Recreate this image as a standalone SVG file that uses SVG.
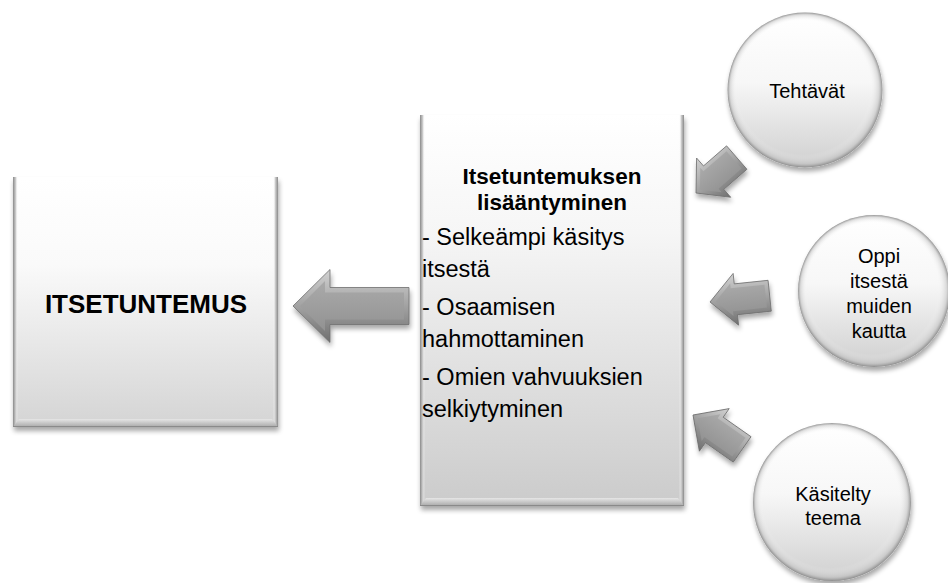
<svg xmlns="http://www.w3.org/2000/svg" width="948" height="583" viewBox="0 0 948 583">
<defs>
  <style>
    text { font-family: "Liberation Sans", Arial, sans-serif; fill: #000; }
    .title { font-size: 26px; font-weight: bold; text-anchor: middle; }
    .head { font-size: 22.5px; font-weight: bold; text-anchor: middle; }
    .body { font-size: 23.5px; }
    .ctext { font-size: 20px; text-anchor: middle; }
    .arrowOuter { fill: url(#arrowBevel); stroke: #6e6e6e; stroke-width: 0.8; }
    .arrowInner { fill: url(#arrowFace); }
  </style>
  <filter id="shadow" x="-20%" y="-20%" width="140%" height="140%">
    <feGaussianBlur in="SourceAlpha" stdDeviation="2.5"/>
    <feOffset dx="1" dy="4" result="b"/>
    <feComponentTransfer><feFuncA type="linear" slope="0.35"/></feComponentTransfer>
    <feMerge><feMergeNode/><feMergeNode in="SourceGraphic"/></feMerge>
  </filter>
  <linearGradient id="boxFillL" x1="0" y1="0" x2="0" y2="1">
    <stop offset="0" stop-color="#ffffff"/>
    <stop offset="0.35" stop-color="#fafafa"/>
    <stop offset="1" stop-color="#d4d4d4"/>
  </linearGradient>
  <linearGradient id="boxFillM" x1="0" y1="0" x2="0" y2="1">
    <stop offset="0" stop-color="#ffffff"/>
    <stop offset="0.3" stop-color="#f6f6f6"/>
    <stop offset="1" stop-color="#cbcbcb"/>
  </linearGradient>
  <linearGradient id="edgeL" x1="0" y1="0" x2="1" y2="0">
    <stop offset="0" stop-color="#8a8a8a"/>
    <stop offset="0.5" stop-color="#c8c8c8"/>
    <stop offset="1" stop-color="#ffffff" stop-opacity="0"/>
  </linearGradient>
  <linearGradient id="edgeR" x1="1" y1="0" x2="0" y2="0">
    <stop offset="0" stop-color="#8a8a8a"/>
    <stop offset="0.5" stop-color="#c8c8c8"/>
    <stop offset="1" stop-color="#ffffff" stop-opacity="0"/>
  </linearGradient>
  <linearGradient id="edgeB" x1="0" y1="0" x2="0" y2="1">
    <stop offset="0" stop-color="#e6e6e6"/>
    <stop offset="1" stop-color="#a8a8a8"/>
  </linearGradient>
  <linearGradient id="circFill" x1="0" y1="0" x2="0" y2="1">
    <stop offset="0" stop-color="#ffffff"/>
    <stop offset="0.45" stop-color="#f7f7f7"/>
    <stop offset="1" stop-color="#cfcfcf"/>
  </linearGradient>
  <radialGradient id="circRim" cx="0.5" cy="0.5" r="0.5" fx="0.42" fy="0.38">
    <stop offset="0.86" stop-color="#ffffff" stop-opacity="0"/>
    <stop offset="0.96" stop-color="#b8b8b8" stop-opacity="0.45"/>
    <stop offset="1" stop-color="#7a7a7a" stop-opacity="0.8"/>
  </radialGradient>
  <linearGradient id="arrowBevel" x1="0" y1="0" x2="0" y2="1">
    <stop offset="0" stop-color="#d2d2d2"/>
    <stop offset="0.5" stop-color="#a2a2a2"/>
    <stop offset="1" stop-color="#6f6f6f"/>
  </linearGradient>
  <linearGradient id="arrowFace" x1="0" y1="0" x2="0" y2="1">
    <stop offset="0" stop-color="#aaaaaa"/>
    <stop offset="1" stop-color="#929292"/>
  </linearGradient>
  <g id="bigArrow">
    <polygon class="arrowOuter" points="0,0 37,-36.5 37,-18.5 116,-18.5 116,18.5 37,18.5 37,36.5"/>
    <polygon class="arrowInner" points="7,0 32,-25 32,-13.5 111,-13.5 111,13.5 32,13.5 32,25"/>
  </g>
  <g id="smallArrow">
    <polygon class="arrowOuter" points="0,0 26,-26 26,-15.5 60,-15.5 60,15.5 26,15.5 26,26"/>
    <polygon class="arrowInner" points="5.7,0 22,-16.3 22,-11.5 56,-11.5 56,11.5 22,11.5 22,16.3"/>
  </g>
</defs>

<rect width="948" height="583" fill="#ffffff"/>

<g id="node-itsetuntemus">
  <rect x="13" y="177" width="265" height="250" fill="url(#boxFillL)" filter="url(#shadow)"/>
  <rect x="13" y="177" width="5" height="250" fill="url(#edgeL)"/>
  <rect x="273" y="177" width="5" height="250" fill="url(#edgeR)"/>
  <polygon points="13,427 278,427 272,419 19,419" fill="url(#edgeB)"/>
  <line x1="13" y1="426.5" x2="278" y2="426.5" stroke="#8a8a8a" stroke-width="1"/>
  <text class="title" x="146" y="313">ITSETUNTEMUS</text>
</g>

<g id="node-lisaantyminen">
  <rect x="420" y="115" width="264" height="391" fill="url(#boxFillM)" filter="url(#shadow)"/>
  <rect x="420" y="115" width="5" height="391" fill="url(#edgeL)"/>
  <rect x="679" y="115" width="5" height="391" fill="url(#edgeR)"/>
  <polygon points="420,506 684,506 678,498 426,498" fill="url(#edgeB)"/>
  <line x1="420" y1="505.5" x2="684" y2="505.5" stroke="#8a8a8a" stroke-width="1"/>
  <text class="head" x="552" y="184">Itsetuntemuksen</text>
  <text class="head" x="552" y="210">lisääntyminen</text>
  <text class="body" x="422" y="245">- Selkeämpi käsitys</text>
  <text class="body" x="422" y="277">itsestä</text>
  <text class="body" x="422" y="315">- Osaamisen</text>
  <text class="body" x="422" y="347">hahmottaminen</text>
  <text class="body" x="422" y="385">- Omien vahvuuksien</text>
  <text class="body" x="422" y="417">selkiytyminen</text>
</g>

<g id="node-tehtavat">
  <circle cx="805" cy="90" r="77.5" fill="url(#circFill)" filter="url(#shadow)"/>
  <circle cx="805" cy="90" r="77.5" fill="url(#circRim)"/>
  <text class="ctext" x="807" y="98">Tehtävät</text>
</g>

<g id="node-oppi">
  <circle cx="874" cy="291" r="76" fill="url(#circFill)" filter="url(#shadow)"/>
  <circle cx="874" cy="291" r="76" fill="url(#circRim)"/>
  <text class="ctext" x="879" y="263">Oppi</text>
  <text class="ctext" x="879" y="288">itsestä</text>
  <text class="ctext" x="879" y="313">muiden</text>
  <text class="ctext" x="879" y="338">kautta</text>
</g>

<g id="node-kasitelty">
  <circle cx="832" cy="502" r="79" fill="url(#circFill)" filter="url(#shadow)"/>
  <circle cx="832" cy="502" r="79" fill="url(#circRim)"/>
  <text class="ctext" x="833" y="501">Käsitelty</text>
  <text class="ctext" x="833" y="525">teema</text>
</g>

<g id="connectors" filter="url(#shadow)">
  <use href="#bigArrow" transform="translate(293,306)"/>
  <use href="#smallArrow" transform="translate(696,193) rotate(-41) scale(0.9,1)"/>
  <use href="#smallArrow" transform="translate(710,302) rotate(-6)"/>
  <use href="#smallArrow" transform="translate(693,415) rotate(35)"/>
</g>
</svg>
